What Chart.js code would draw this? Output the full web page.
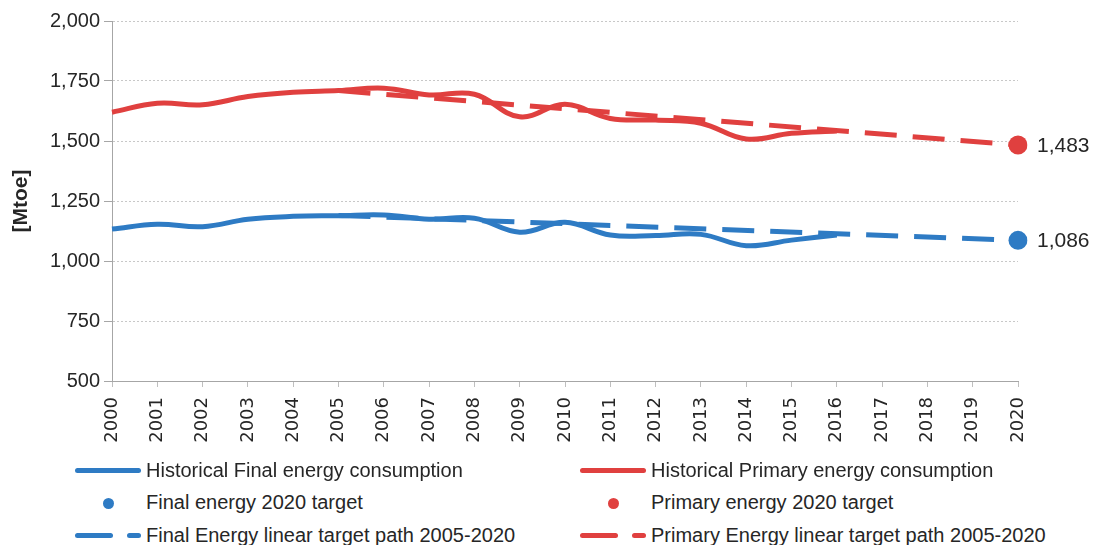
<!DOCTYPE html>
<html>
<head>
<meta charset="utf-8">
<script src="https://cdn.jsdelivr.net/npm/chart.js@4"></script>
<style>
    body { margin: 0; background: #fff; width: 1096px; height: 545px; overflow: hidden; position: relative; }
    #wrap { position: absolute; left: 0; top: 0; width: 1096px; height: 455px; }
    #legend { position: absolute; left: 0; top: 454px; width: 1096px; font-family: "Liberation Sans", sans-serif; font-size: 20px; color: #262626; }
    .item { position: absolute; height: 32px; display: flex; align-items: center; white-space: nowrap; }
    .sym { position: relative; width: 66px; height: 32px; margin-right: 5px; }
    .sym span { position: absolute; top: 14px; height: 5px; border-radius: 3px; }
</style>
</head>
<body>
<div id="wrap"><canvas id="energy-chart"></canvas></div>
<div id="legend"></div>
<script>
const years = ['2000', '2001', '2002', '2003', '2004', '2005', '2006', '2007', '2008', '2009', '2010',
    '2011', '2012', '2013', '2014', '2015', '2016', '2017', '2018', '2019', '2020'];

// Historical values 2000-2016 [Mtoe]
const finalHistorical = [1133, 1153, 1143, 1174, 1186, 1189, 1192, 1174, 1178, 1120, 1161,
    1108, 1106, 1111, 1064, 1087, 1108];
const primaryHistorical = [1620, 1657, 1651, 1685, 1703, 1710, 1720, 1692, 1695, 1601, 1653,
    1594, 1587, 1574, 1508, 1532, 1542];

// 2020 targets
const finalTarget = 1086;
const primaryTarget = 1483;

// Linear target path start (2005) and end (2020)
const finalPathStart = 1190;
const primaryPathStart = 1710;

const yTicks = [500, 750, 1000, 1250, 1500, 1750, 2000];

const blue = 'rgb(46, 123, 196)';
const red = 'rgb(224, 64, 63)';

function atYears(pairs) {
    // pairs: {year: value}
    return years.map(function(y) { return y in pairs ? pairs[y] : null; });
}

const endLabels = {
    id: 'endLabels',
    afterDatasetsDraw: function(chart) {
        const ctx = chart.ctx;
        ctx.save();
        ctx.font = '21px "Liberation Sans", sans-serif';
        ctx.fillStyle = '#262626';
        ctx.textBaseline = 'middle';
        chart.data.datasets.forEach(function(ds, i) {
            if (!ds.endLabel) return;
            const meta = chart.getDatasetMeta(i);
            meta.data.forEach(function(pt, j) {
                if (ds.data[j] == null) return;
                ctx.fillText(ds.data[j].toLocaleString('en-US'), pt.x + 19, pt.y + 1);
            });
        });
        ctx.restore();
    }
};

const chart = new Chart(document.getElementById('energy-chart'), {
    type: 'line',
    data: {
        labels: years,
        datasets: [{
            label: 'Historical Final energy consumption',
            data: finalHistorical,
            borderColor: blue,
            backgroundColor: blue,
            borderWidth: 5,
            tension: 0.4,
            pointRadius: 0,
            legendStyle: 'line',
            order: 2
        }, {
            label: 'Historical Primary energy consumption',
            data: primaryHistorical,
            borderColor: red,
            backgroundColor: red,
            borderWidth: 5,
            tension: 0.4,
            pointRadius: 0,
            legendStyle: 'line',
            order: 2
        }, {
            label: 'Final energy 2020 target',
            data: atYears({ '2020': finalTarget }),
            borderColor: blue,
            backgroundColor: blue,
            showLine: false,
            pointRadius: 9.5,
            pointBorderWidth: 0,
            legendStyle: 'dot',
            endLabel: true,
            order: 1
        }, {
            label: 'Primary energy 2020 target',
            data: atYears({ '2020': primaryTarget }),
            borderColor: red,
            backgroundColor: red,
            showLine: false,
            pointRadius: 9.5,
            pointBorderWidth: 0,
            legendStyle: 'dot',
            endLabel: true,
            order: 1
        }, {
            label: 'Final Energy linear target path 2005-2020',
            data: atYears({ '2005': finalPathStart, '2020': finalTarget }),
            borderColor: blue,
            backgroundColor: blue,
            borderWidth: 5,
            borderDash: [32, 16],
            spanGaps: true,
            pointRadius: 0,
            legendStyle: 'dash',
            order: 3
        }, {
            label: 'Primary Energy linear target path 2005-2020',
            data: atYears({ '2005': primaryPathStart, '2020': primaryTarget }),
            borderColor: red,
            backgroundColor: red,
            borderWidth: 5,
            borderDash: [32, 16],
            spanGaps: true,
            pointRadius: 0,
            legendStyle: 'dash',
            order: 3
        }]
    },
    options: {
        responsive: true,
        maintainAspectRatio: false,
        animation: false,
        layout: { padding: { left: 0, right: 78, top: 21, bottom: 0 } },
        plugins: {
            legend: { display: false },
            tooltip: { enabled: false }
        },
        scales: {
            x: {
                offset: false,
                afterFit: function(scale) { scale.height = 74; },
                grid: { drawOnChartArea: false, drawTicks: true, tickLength: 6, color: '#bfbfbf' },
                border: { color: '#a6a6a6' },
                ticks: {
                    minRotation: 90,
                    maxRotation: 90,
                    autoSkip: false,
                    padding: 10,
                    color: '#262626',
                    font: { family: '"DejaVu Sans"', size: 18 }
                }
            },
            y: {
                min: 500,
                max: 2000,
                afterFit: function(scale) { scale.width = 112; },
                afterBuildTicks: function(scale) {
                    scale.ticks = yTicks.map(function(v) { return { value: v }; });
                },
                grid: { color: '#c8c8c8', tickLength: 8, tickColor: '#a6a6a6' },
                border: { color: '#a6a6a6', dash: [2, 2] },
                title: {
                    display: true,
                    text: '[Mtoe]',
                    color: '#262626',
                    padding: { top: 9, bottom: 0 },
                    font: { family: '"Liberation Sans"', size: 21, weight: 'bold' }
                },
                ticks: {
                    padding: 4,
                    color: '#262626',
                    font: { family: '"Liberation Sans"', size: 20 },
                    callback: function(value) { return value.toLocaleString('en-US'); }
                }
            }
        }
    },
    plugins: [endLabels]
});

// HTML legend in two columns, built from the chart datasets
const legendEl = document.getElementById('legend');
const columns = [75, 580];
chart.data.datasets.forEach(function(ds, i) {
    const item = document.createElement('div');
    item.className = 'item';
    item.style.left = columns[i % 2] + 'px';
    item.style.top = (Math.floor(i / 2) * 32.5) + 'px';
    const sym = document.createElement('div');
    sym.className = 'sym';
    if (ds.legendStyle === 'line') {
        sym.innerHTML = '<span style="left:0;width:66px;background:' + ds.borderColor + '"></span>';
    } else if (ds.legendStyle === 'dot') {
        sym.innerHTML = '<span style="left:28px;top:11px;width:11px;height:11px;border-radius:50%;background:' + ds.borderColor + '"></span>';
    } else {
        sym.innerHTML = '<span style="left:0;width:38px;background:' + ds.borderColor + '"></span>' +
            '<span style="left:52px;width:14px;background:' + ds.borderColor + '"></span>';
    }
    item.appendChild(sym);
    const txt = document.createElement('span');
    txt.textContent = ds.label;
    item.appendChild(txt);
    legendEl.appendChild(item);
});
</script>
</body>
</html>
